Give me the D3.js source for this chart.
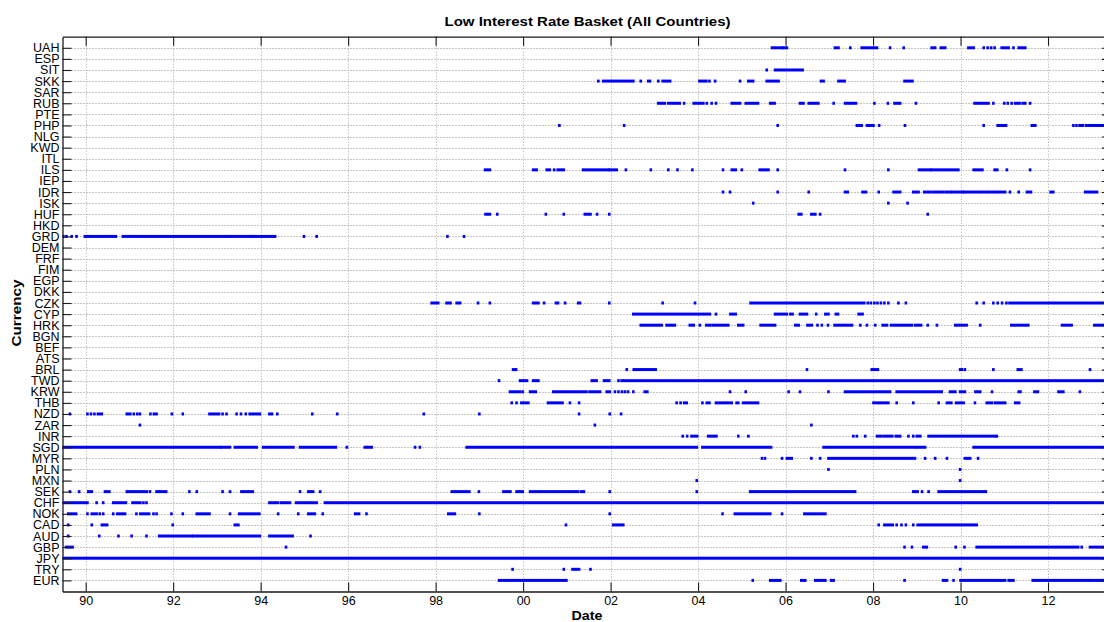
<!DOCTYPE html>
<html>
<head>
<meta charset="utf-8">
<script src="https://cdn.jsdelivr.net/npm/d3@7"></script>
<style>
  html, body { margin: 0; padding: 0; background: #fff; }
  svg { display: block; }
  text { font-family: "Liberation Sans", Arial, Helvetica, sans-serif; fill: #000; }
</style>
</head>
<body>
<svg id="chart" width="1104" height="622"></svg>
<script>
// ---------- DATA (decimal years; a single number = an isolated observation) ----------
const currencies = ["UAH","ESP","SIT","SKK","SAR","RUB","PTE","PHP","NLG","KWD","ITL","ILS","IEP","IDR","ISK","HUF","HKD","GRD","DEM","FRF","FIM","EGP","DKK","CZK","CYP","HRK","BGN","BEF","ATS","BRL","TWD","KRW","THB","NZD","ZAR","INR","SGD","MYR","PLN","MXN","SEK","CHF","NOK","CAD","AUD","GBP","JPY","TRY","EUR"];
const xTickYears = [1990,1992,1994,1996,1998,2000,2002,2004,2006,2008,2010,2012];
const xTickLabels = ["90","92","94","96","98","00","02","04","06","08","10","12"];

const UAH = [[2005.69,2005.92],[2005.95,2006.03],[2007.13,2007.21],2007.48,[2007.74,2008.09],2008.39,2008.70,[2009.34,2009.42],[2009.55,2009.65],[2010.18,2010.30],2010.53,2010.62,2010.70,2010.78,[2010.94,2011.10],2011.21,[2011.33,2011.48]];
const ESP = [];
const SIT = [2005.57,[2005.76,2006.39]];
const SKK = [2001.72,[2001.83,2002.52],2002.69,[2002.86,2002.90],2003.09,[2003.19,2003.36],[2004.03,2004.19],2004.26,2004.39,2004.96,[2005.15,2005.26],[2005.57,2005.84],[2006.81,2006.87],[2007.21,2007.35],[2008.72,2008.90]];
const SAR = [];
const RUB = [[2003.09,2003.24],[2003.32,2003.58],2003.68,[2003.90,2004.12],2004.20,2004.31,2004.41,[2004.77,2004.96],[2005.09,2005.37],[2005.65,2005.75],[2006.33,2006.41],[2006.53,2006.75],2007.10,[2007.36,2007.61],2008.03,2008.34,[2008.49,2008.62],2008.98,[2010.32,2010.64],2010.75,2011.00,2011.08,2011.17,[2011.25,2011.35],2011.42,2011.48,2011.59];
const PTE = [];
const PHP = [2000.83,2002.31,2005.82,[2007.63,2007.74],[2007.86,2008.01],2008.14,2008.73,2010.53,[2010.85,2011.04],[2011.63,2011.71],2012.58,2012.65,[2012.72,2012.80],[2012.87,2013.44]];
const NLG = [];
const KWD = [];
const ITL = [];
const ILS = [[1999.13,1999.24],[2000.23,2000.31],[2000.54,2000.61],2000.71,[2000.79,2000.93],[2001.37,2001.95],[2001.98,2002.14],2002.35,2002.92,2003.32,2003.53,2003.87,2004.57,[2004.77,2004.86],2005.00,[2005.41,2005.61],2005.82,2007.36,2008.35,[2009.05,2009.31],[2009.34,2009.95],[2010.30,2010.50],[2010.78,2010.84],2011.06,2011.59];
const IEP = [];
const IDR = [2004.57,2004.73,2005.82,2006.53,[2007.36,2007.42],[2007.76,2007.84],2008.13,[2008.47,2008.62],[2008.92,2009.04],[2009.17,2009.30],[2009.36,2009.45],[2009.50,2009.61],[2009.67,2009.78],[2009.82,2010.05],[2010.08,2010.40],[2010.45,2010.60],[2010.65,2010.80],[2010.85,2011.02],2011.13,2011.33,[2011.52,2011.61],[2012.06,2012.12],[2012.85,2013.12]];
const ISK = [2005.26,2008.35,2008.79];
const HUF = [[1999.14,1999.24],1999.41,2000.52,2000.93,[2001.41,2001.54],2001.69,2001.97,[2006.30,2006.36],[2006.59,2006.68],2006.79,2009.25];
const HKD = [];
const GRD = [1989.49,1989.56,1989.68,1989.79,[1989.98,1990.69],[1990.85,1993.18],[1993.22,1993.76],[1993.79,1994.33],1994.99,1995.28,1998.27,1998.65];
const DEM = [];
const FRF = [];
const FIM = [];
const EGP = [];
const DKK = [];
const CZK = [[1997.91,1998.06],[1998.25,1998.34],[1998.48,1998.56],1998.97,1999.24,[2000.23,2000.35],2000.48,[2000.75,2000.80],2000.96,[2001.26,2001.30],2001.97,2003.19,2003.93,[2005.20,2007.74],2007.80,2007.88,2007.95,2008.03,2008.10,2008.18,2008.26,2008.35,2008.58,2008.75,2010.37,2010.53,2010.75,2010.85,2010.95,2011.05,[2011.12,2013.44]];
const CYP = [[2002.52,2004.27],2004.41,[2004.74,2004.86],[2005.76,2006.03],[2006.11,2006.16],[2006.33,2006.49],2006.70,[2006.91,2006.98],[2007.15,2007.20],[2007.67,2007.76]];
const HRK = [[2002.69,2003.17],[2003.28,2003.47],[2003.81,2003.90],2004.04,[2004.19,2004.27],[2004.33,2004.69],[2004.92,2005.03],[2005.43,2005.76],[2006.22,2006.30],[2006.50,2006.60],2006.73,2006.83,2006.97,[2007.12,2007.52],2007.71,2007.86,2008.05,[2008.22,2008.32],[2008.41,2008.89],[2008.96,2009.10],2009.25,2009.46,[2009.88,2010.14],2010.45,[2011.16,2011.55],[2012.32,2012.54],[2013.06,2013.44]];
const BGN = [];
const BEF = [];
const ATS = [];
const BRL = [[1999.77,1999.84],2002.37,[2002.53,2003.03],2006.49,[2007.97,2008.11],[2009.99,2010.03],2010.10,2010.75,[2011.31,2011.39],2012.96];
const TWD = [1999.45,[1999.93,2000.09],[2000.23,2000.35],[2001.57,2001.68],[2001.85,2001.97],2002.18,[2002.25,2013.44]];
const KRW = [[1999.70,1999.93],1999.99,[2000.16,2000.29],[2000.69,2001.00],[2001.05,2001.45],[2001.52,2001.76],[2001.91,2001.98],2002.10,2002.18,2002.26,2002.33,2002.40,2002.52,[2002.78,2002.84],2004.73,2005.09,2006.07,2006.33,2006.98,[2007.36,2008.39],[2008.54,2009.57],[2009.76,2009.88],[2009.99,2010.10],[2010.34,2010.45],2010.72,[2011.33,2011.37],[2011.69,2011.77],[2012.24,2012.35],2012.73];
const THB = [1999.74,1999.85,[1999.96,2000.12],[2000.57,2000.90],2001.07,2001.28,2003.51,2003.60,[2003.68,2003.74],2004.10,[2004.20,2004.26],[2004.41,2004.77],[2004.88,2004.92],[2005.03,2005.37],[2008.01,2008.35],2008.54,2008.92,2009.50,[2009.69,2009.79],[2009.90,2010.07],2010.33,[2010.60,2010.72],[2010.79,2011.02],[2011.25,2011.34]];
const NZD = [1989.64,1990.04,1990.12,1990.20,[1990.28,1990.37],[1990.94,1991.02],1991.10,1991.18,1991.24,1991.48,[1991.56,1991.62],1991.97,1992.22,[1992.83,1993.05],1993.13,1993.22,1993.45,1993.55,1993.66,[1993.75,1993.98],[1994.20,1994.26],1994.38,1995.18,1995.75,1997.73,1999.00,2001.28,2001.98,2002.24];
const ZAR = [1991.24,2001.64,2006.59];
const INR = [2003.65,2003.75,[2003.85,2003.98],[2004.23,2004.42],2004.92,2005.15,2007.55,2007.63,2007.82,[2008.09,2008.18],[2008.24,2008.44],[2008.52,2008.62],2008.81,2008.92,[2009.00,2009.08],[2009.27,2010.79],2010.83];
const SGD = [[1989.47,1993.07],[1993.10,1993.30],[1993.41,1993.91],[1994.06,1994.75],[1994.90,1995.72],1995.97,[1996.38,1996.54],1997.53,1997.64,[1998.71,2003.97],[2004.10,2005.67],[2006.87,2008.96],[2009.00,2009.19],[2010.30,2013.44]];
const MYR = [2005.46,2005.53,2005.92,[2006.03,2006.14],2006.59,2006.79,[2006.98,2008.96],2009.19,2009.42,2009.69,[2010.10,2010.22],2010.40];
const PLN = [2006.98,2009.99];
const MXN = [2003.97,2009.99];
const SEK = [1989.64,1989.85,[1990.06,1990.14],[1990.44,1990.54],[1990.94,1991.05],[1991.10,1991.25],[1991.30,1991.40],1991.47,[1991.62,1991.84],1992.37,1992.54,1993.13,1993.30,[1993.56,1993.82],1994.90,[1995.09,1995.20],1995.36,[1998.37,1998.77],1998.99,[1999.55,1999.71],[1999.85,1999.99],[2000.16,2001.26],[2001.33,2001.39],2001.98,2003.97,[2005.19,2007.59],[2008.92,2009.02],2009.12,2009.27,[2009.50,2010.58]];
const CHF = [[1989.47,1990.04],1990.25,1990.40,[1990.63,1990.92],[1991.07,1991.25],1991.32,1991.39,[1994.20,1994.40],[1994.47,1994.67],[1994.81,1995.28],[1995.47,2013.44]];
const NOK = [[1989.60,1989.78],1990.04,[1990.14,1990.25],1990.32,1990.40,1990.63,[1990.72,1990.90],1991.16,[1991.25,1991.45],1991.55,1991.62,1991.96,1992.22,[1992.54,1992.83],1993.30,[1993.51,1993.97],1994.40,1994.86,[1995.09,1995.24],1995.42,[1996.16,1996.25],1996.42,[1998.29,1998.44],1999.00,2001.98,2004.56,[2004.84,2005.65],2005.92,[2006.43,2006.91]];
const CAD = [1989.60,1990.14,[1990.37,1990.49],1991.99,[1993.41,1993.49],2000.98,[2002.06,2002.29],2008.13,[2008.26,2008.45],2008.54,2008.65,2008.75,2008.92,[2009.02,2010.37]];
const AUD = [1989.60,1990.31,1990.75,1991.05,1991.39,[1991.68,1991.85],[1991.90,1992.42],[1992.46,1993.98],[1994.20,1994.45],[1994.50,1994.73],1995.14];
const GBP = [[1989.55,1989.70],1994.58,2008.72,2008.89,[2009.15,2009.23],2009.89,2010.09,[2010.37,2012.69],2012.77,[2012.96,2013.44]];
const JPY = [[1989.47,2013.44]];
const TRY = [1999.76,2000.93,[2001.13,2001.28],2001.54,2009.99];
const EUR = [[1999.45,2000.99],2005.25,[2005.65,2005.88],[2006.36,2006.45],[2006.68,2006.91],[2007.04,2007.10],2008.72,[2009.60,2009.69],2009.84,[2010.00,2011.02],[2011.10,2011.21],[2011.65,2013.44]];

// table built from the named arrays
const series = {UAH,ESP,SIT,SKK,SAR,RUB,PTE,PHP,NLG,KWD,ITL,ILS,IEP,IDR,ISK,HUF,HKD,GRD,DEM,FRF,FIM,EGP,DKK,CZK,CYP,HRK,BGN,BEF,ATS,BRL,TWD,KRW,THB,NZD,ZAR,INR,SGD,MYR,PLN,MXN,SEK,CHF,NOK,CAD,AUD,GBP,JPY,TRY,EUR};

// ---------- LAYOUT ----------
const svg = d3.select("#chart");
const pL = 62.5, pR = 1111, pT = 36.7, pB = 591.5;
const nCur = currencies.length;

const x = d3.scaleLinear().domain([1989.47, 2013.44]).range([pL, pR]);
const y = d3.scaleLinear().domain([0, nCur + 1]).range([pB, pT]);
const yPos = name => y(nCur - currencies.indexOf(name));

svg.append("clipPath").attr("id", "plotclip")
  .append("rect").attr("x", pL).attr("y", pT).attr("width", pR - pL).attr("height", pB - pT);

// grid
const grid = svg.append("g").attr("stroke-width", 1).attr("stroke-dasharray", "1,2");
grid.selectAll("line.h").data(currencies).join("line").attr("class", "h")
  .attr("stroke", "#8c8c8c")
  .attr("x1", pL).attr("x2", pR)
  .attr("y1", d => Math.round(yPos(d)) + 0.5).attr("y2", d => Math.round(yPos(d)) + 0.5);
grid.selectAll("line.v").data(xTickYears).join("line").attr("class", "v")
  .attr("stroke", "#a8a8a8")
  .attr("x1", d => Math.round(x(d)) + 0.5).attr("x2", d => Math.round(x(d)) + 0.5)
  .attr("y1", pT).attr("y2", pB);

// data marks
const marks = [];
currencies.forEach(c => {
  series[c].forEach(v => {
    const [a, b] = Array.isArray(v) ? v : [v, v];
    marks.push({c, a, b});
  });
});
svg.append("g").attr("clip-path", "url(#plotclip)")
  .selectAll("rect").data(marks).join("rect")
  .attr("x", d => x(d.a) - 1.3)
  .attr("width", d => Math.max(2.6, x(d.b) - x(d.a) + 2.6))
  .attr("y", d => yPos(d.c) - 1.5)
  .attr("height", 3)
  .attr("fill", "#0000ff");

// axes
const axL = svg.append("g").attr("transform", `translate(${pL},0)`)
  .call(d3.axisLeft(y).tickValues(d3.range(1, nCur + 1)).tickFormat(i => currencies[nCur - i])
    .tickSizeInner(-9).tickSizeOuter(0).tickPadding(3));
const axR = svg.append("g").attr("transform", `translate(${pR},0)`)
  .call(d3.axisRight(y).tickValues(d3.range(1, nCur + 1)).tickFormat("").tickSizeInner(-9).tickSizeOuter(0));
const axB = svg.append("g").attr("transform", `translate(0,${pB})`)
  .call(d3.axisBottom(x).tickValues(xTickYears).tickFormat((d, i) => xTickLabels[i])
    .tickSizeInner(-9).tickSizeOuter(0).tickPadding(5));
const axT = svg.append("g").attr("transform", `translate(0,${pT})`)
  .call(d3.axisTop(x).tickValues(xTickYears).tickFormat("").tickSizeInner(-9).tickSizeOuter(0));

[axL, axR, axB, axT].forEach(g => {
  g.select(".domain").attr("stroke", "#1a1a1a").attr("stroke-width", 1.3);
  g.selectAll(".tick line").attr("stroke", "#1a1a1a").attr("stroke-width", 1.1);
  g.selectAll(".tick text").attr("font-family", "'Liberation Sans', Arial, sans-serif")
    .attr("font-size", "12.5px").attr("fill", "#000");
});

// titles
svg.append("text").attr("x", 587.5).attr("y", 25.7).attr("text-anchor", "middle")
  .attr("font-size", "13px").attr("font-weight", "bold")
  .attr("textLength", 286).attr("lengthAdjust", "spacingAndGlyphs")
  .text("Low Interest Rate Basket (All Countries)");
svg.append("text").attr("x", 587).attr("y", 619.5).attr("text-anchor", "middle")
  .attr("font-size", "13.5px").attr("font-weight", "bold")
  .attr("textLength", 31).attr("lengthAdjust", "spacingAndGlyphs")
  .text("Date");
svg.append("text").attr("transform", "translate(21,313) rotate(-90)").attr("text-anchor", "middle")
  .attr("font-size", "13.5px").attr("font-weight", "bold")
  .attr("textLength", 67).attr("lengthAdjust", "spacingAndGlyphs")
  .text("Currency");
</script>
</body>
</html>
